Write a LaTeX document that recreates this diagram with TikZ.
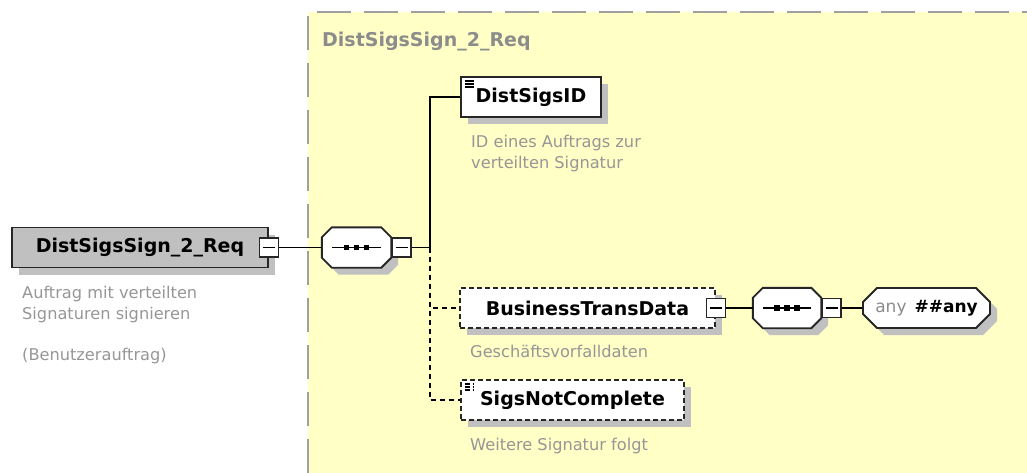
\documentclass[tikz,border=0pt]{standalone}
\usepackage{fontspec}
\setmainfont{DejaVu Sans}
\usepackage{tikz}
\usetikzlibrary{shapes.misc,shadows}

\begin{document}
\begin{tikzpicture}[x=1pt,y=-1pt,
  boxshadow/.style={drop shadow={shadow xshift=7pt,shadow yshift=-7pt,fill={rgb,255:red,192;green,192;blue,192},opacity=1}},
  elem/.style={draw=black!85,line width=1.9pt,fill=white,minimum height=40pt,inner sep=0pt,
    font=\fontsize{19}{23}\selectfont\bfseries,boxshadow},
  optbox/.style={dash pattern=on 5pt off 3pt},
  docicon/.style={path picture={\foreach \dy in {4,7,10}
      \draw[black,line width=1.1pt] ([xshift=3.5pt,yshift=-\dy pt]path picture bounding box.north west) -- ++(9pt,0pt);}},
  seqbox/.style={minimum height=40pt,inner sep=0pt},
  seqshape/.style={draw=black!85,line width=1.9pt,fill=white,boxshadow},
  minusbox/.style={draw=black!85,line width=1.7pt,fill=white,minimum size=19pt,inner sep=0pt,
    path picture={\draw[black,line width=1.5pt] ([xshift=3.5pt]path picture bounding box.west) -- ([xshift=-3.5pt]path picture bounding box.east);}},
  desc/.style={anchor=north west,inner sep=0pt,align=left,text={rgb,255:red,150;green,150;blue,150},
    font=\fontsize{16.2}{20.5}\selectfont},
  conn/.style={line width=1.7pt},
  optconn/.style={line width=1.7pt,dash pattern=on 5pt off 4pt}]

\useasboundingbox (0,0) rectangle (1027,473);
\fill[color={rgb,255:red,255; green,255; blue,198}] (308,12) rectangle (1027,473);
\draw[line width=2pt,color={rgb,255:red,160; green,160; blue,160},dash pattern=on 34pt off 13pt] (308,473) -- (308,12) -- (1027,12);

\node[anchor=north west,inner sep=0pt,text={rgb,255:red,140;green,140;blue,140},font=\fontsize{19}{23}\selectfont\bfseries] (title) at (322,32) {DistSigsSign\_2\_Req};

\node[elem,fill={rgb,255:red,192;green,192;blue,192},minimum width=256pt] (root) at (140,247.5) {DistSigsSign\_2\_Req\hspace{6pt}};
\node[minusbox] (rootm) at (root.east) {};
\node[desc] (rootd) at (22,286) {Auftrag mit verteilten\\Signaturen signieren\\[21pt](Benutzerauftrag)};

\node[seqbox,minimum width=69pt] (seq1) at (356.5,247.5) {};
\node[seqbox,minimum width=68pt] (seq2) at (787,308) {};
\foreach \s in {seq1,seq2} {
  \filldraw[seqshape] ([xshift=10pt]\s.north west) -- ([xshift=-10pt]\s.north east) -- ([yshift=-10pt]\s.north east)
    -- ([yshift=10pt]\s.south east) -- ([xshift=-10pt]\s.south east) -- ([xshift=10pt]\s.south west)
    -- ([yshift=10pt]\s.south west) -- ([yshift=-10pt]\s.north west) -- cycle;
  \draw[line width=1.6pt] ([xshift=10pt]\s.west) -- ([xshift=-10pt]\s.east);
  \foreach \dx in {-10,0,10}
    \fill ([xshift=\dx pt]\s.center) ++(-2.8pt,-2.8pt) rectangle ++(5.6pt,5.6pt);
}
\node[minusbox,anchor=west] (seq1m) at (seq1.east) {};
\node[minusbox,anchor=west] (seq2m) at (seq2.east) {};
\coordinate (fork) at (430,247.5);

\node[elem,docicon,minimum width=140pt] (dsid) at (531,97) {DistSigsID};
\node[desc] (dsidd) at (471,135) {ID eines Auftrags zur\\verteilten Signatur};

\node[elem,optbox,minimum width=255pt] (btd) at (587.5,308) {BusinessTransData\hspace{6pt}};
\node[minusbox] (btdm) at (btd.east) {};
\node[desc] (btdd) at (470,345) {Geschäftsvorfalldaten};

\node[elem,optbox,docicon,minimum width=223pt] (snc) at (572.5,400) {SigsNotComplete};
\node[desc] (sncd) at (470,438) {Weitere Signatur folgt};

\node[elem,chamfered rectangle,chamfered rectangle xsep=7pt,chamfered rectangle ysep=7pt,minimum width=127pt,
  font=\fontsize{17}{21}\selectfont] (any) at (926.5,308) {{\color[rgb]{0.55,0.55,0.55}any}\hspace{8pt}\textbf{\#\#any}};

\draw[conn] (rootm) -- (seq1);
\draw[conn] (seq1m) -- (fork);
\draw[conn] (fork) |- (dsid);
\draw[optconn] (fork) |- (btd);
\draw[optconn] (fork) |- (snc);
\draw[conn] (btdm) -- (seq2);
\draw[conn] (seq2m) -- (any);

\end{tikzpicture}
\end{document}
